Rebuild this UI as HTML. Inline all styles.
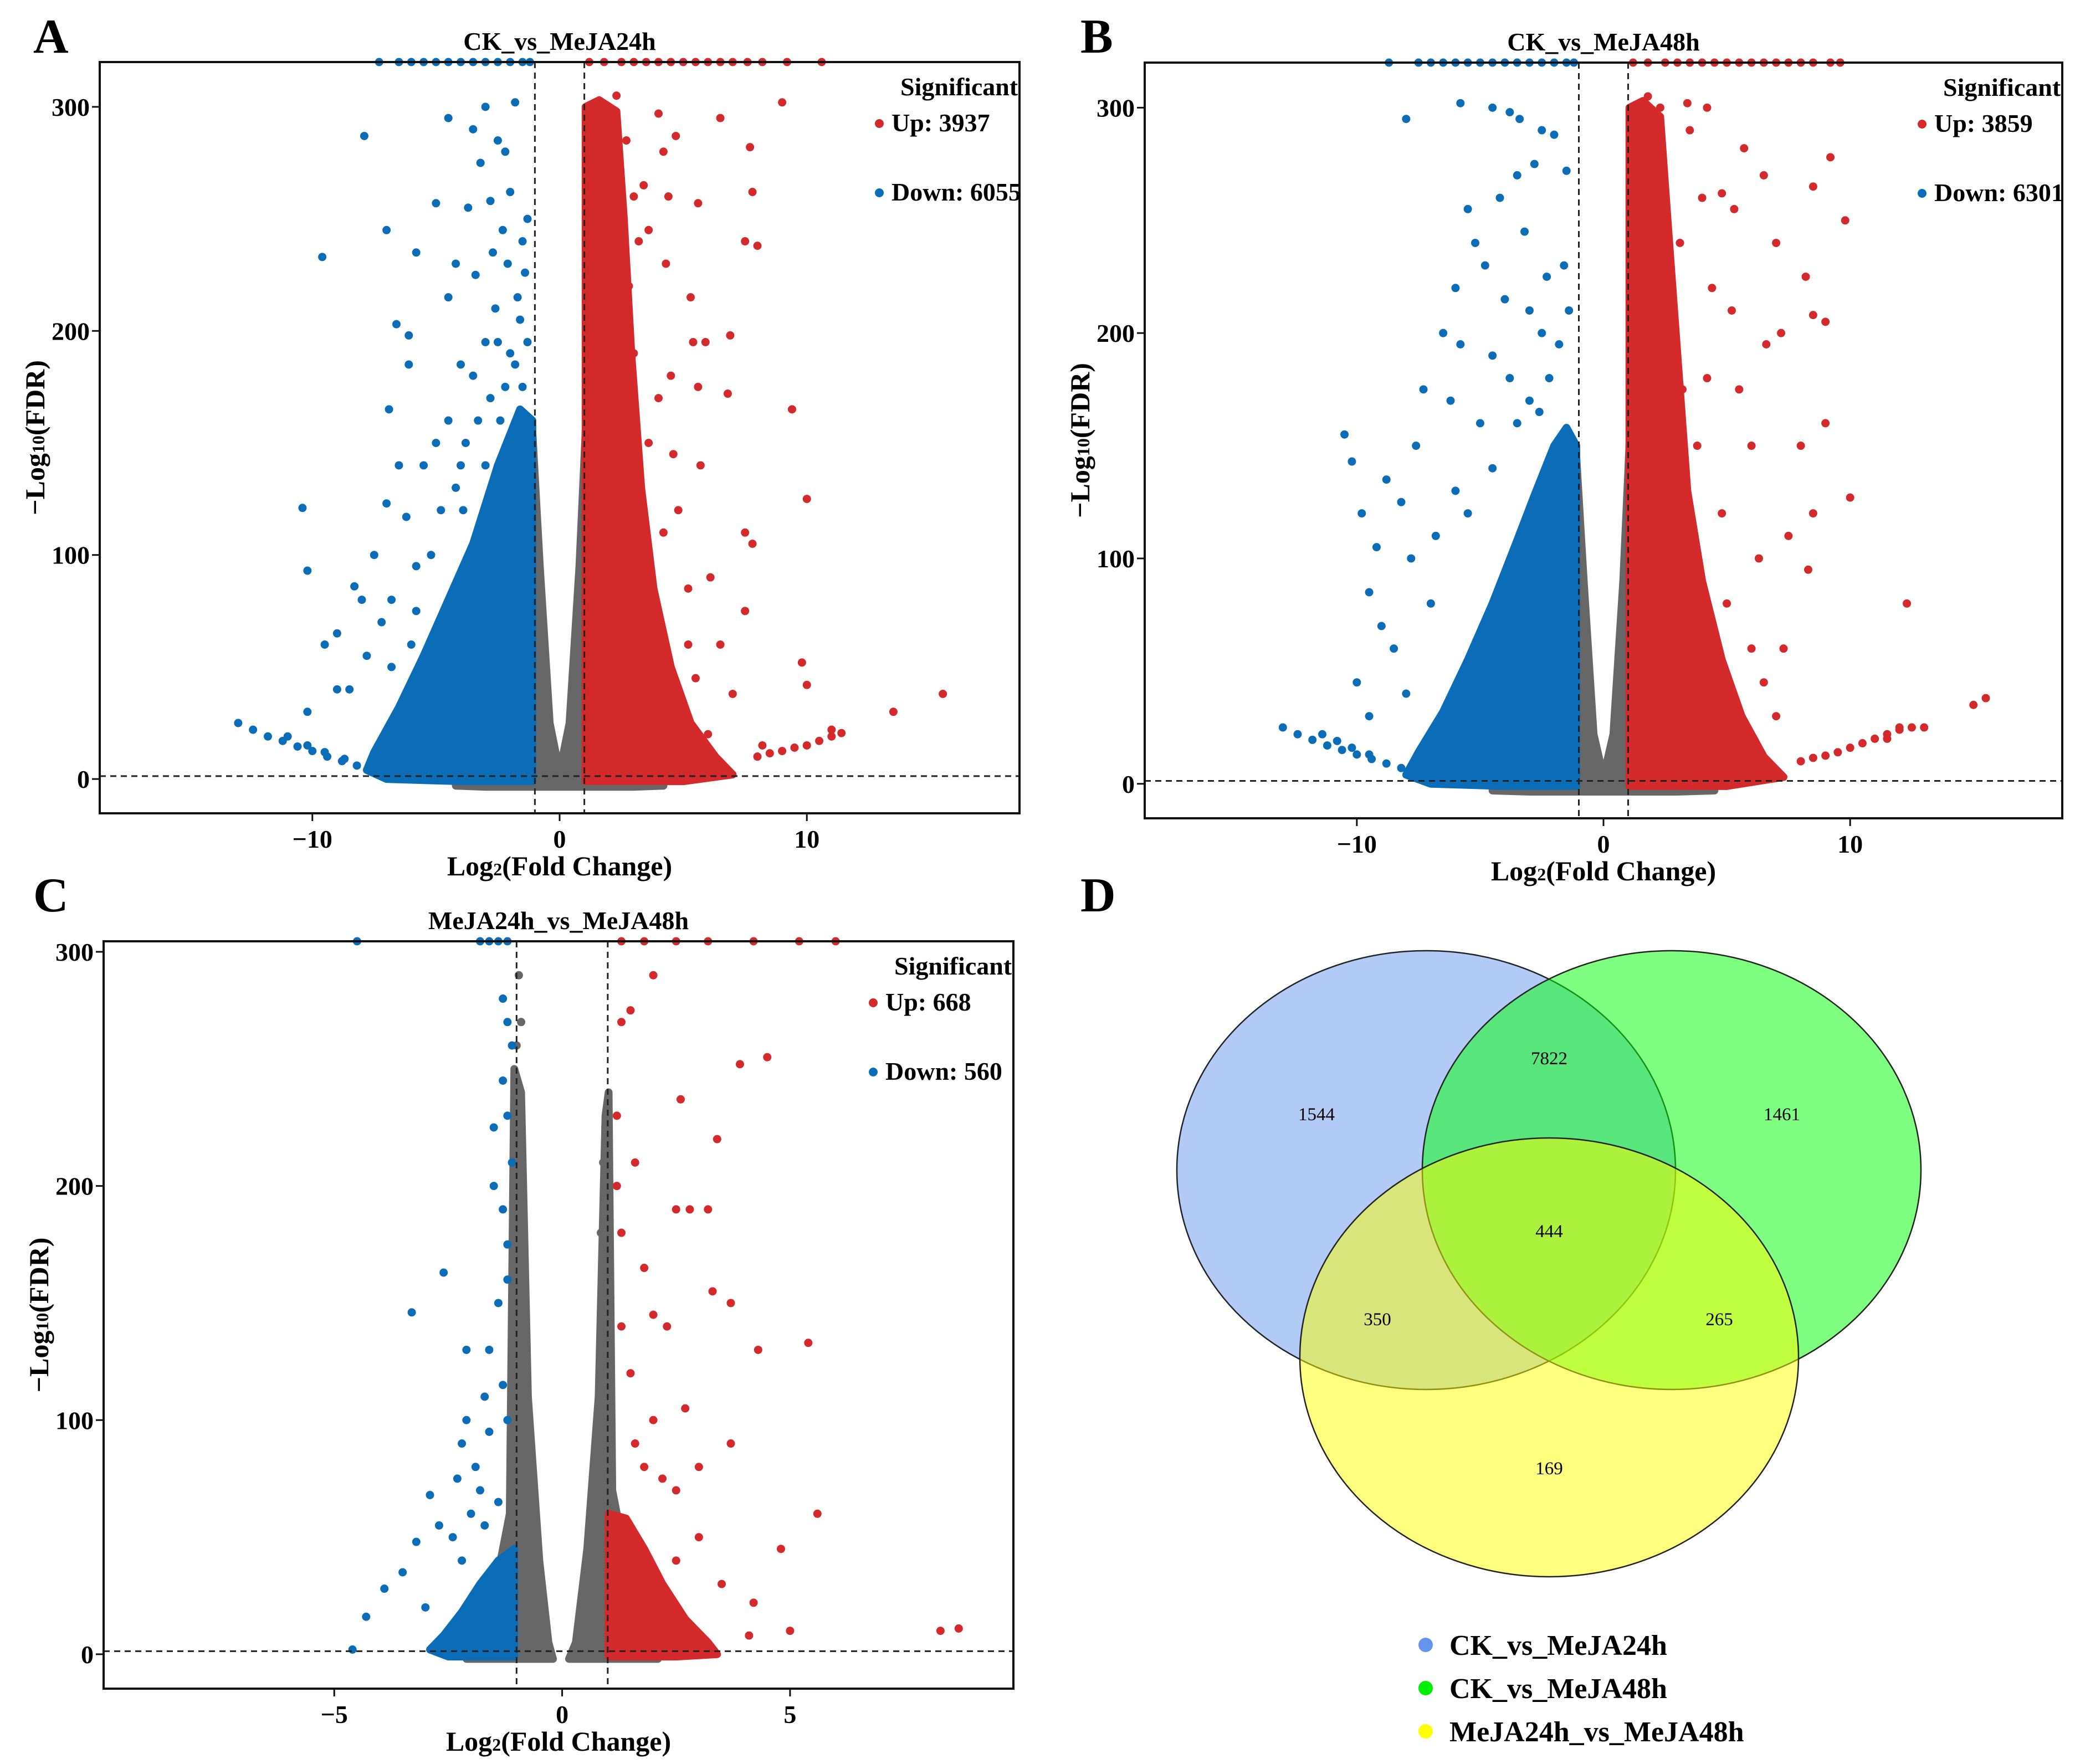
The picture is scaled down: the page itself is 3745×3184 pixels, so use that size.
<!DOCTYPE html>
<html><head><meta charset="utf-8"><style>
html,body{margin:0;padding:0;background:#fff;}
svg{display:block;font-family:"Liberation Serif",serif;}
</style></head><body>
<svg id="fig" width="3745" height="3184" viewBox="0 0 3745 3184" xmlns="http://www.w3.org/2000/svg">
<rect width="3745" height="3184" fill="#fff"/>
<g font-weight="bold" font-size="88">
<text x="60" y="95">A</text>
<text x="1950" y="95">B</text>
<text x="60" y="1645">C</text>
<text x="1950" y="1645">D</text>
</g>
<g id="venn"></g>
</svg>
<script>
// ---------- Panel A data ----------
const aBlueEnv=[[-1.1,-1],[-1.1,160],[-1.6,165],[-2.5,140],[-3.5,105],[-4.5,80],[-5.5,55],[-6.5,32],[-7.5,12],[-7.8,4],[-7,0],[-4,-1]];
const aRedEnv=[[1.05,-1],[1.05,300],[1.6,303],[2.3,298],[2.6,250],[2.9,190],[3.3,130],[3.8,85],[4.5,50],[5.3,25],[6.3,10],[7,2],[5,-1]];
const aGrayEnv=[[-4.2,-3],[-1.1,-3],[-1.1,155],[-0.8,95],[-0.4,25],[0,3],[0.4,25],[0.8,95],[1.05,155],[1.05,-3],[4.2,-3],[3,-3.5],[-3,-3.5]];
const aBluePts=[[-7.9,287],[-9.6,233],[-10.4,121],[-10.2,93],[-10.2,30],[-7,245],[-6.6,203],[-6.1,198],[-6.1,185],[-5.8,235],[-5,257],[-4.5,295],[-3.5,290],[-3.0,300],[-1.8,302],[-2.5,285],[-3.2,275],[-2.2,280],[-2.0,262],[-2.8,258],[-4.2,230],[-4.5,215],[-3.4,225],[-2.6,210],[-2.3,245],[-1.5,240],[-1.4,226],[-6.9,165],[-7,123],[-8.3,86],[-9,65],[-8,80],[-5.5,140],[-6.2,117],[-4.5,160],[-3.5,180],[-3,195],[-2,190],[-1.5,175],[-5,150],[-4,185],[-6.5,140],[-7.5,100],[-8.5,40],[-9.5,60],[-9,40],[-7.8,55],[-6.8,80],[-5.8,95],[-1.6,205],[-1.3,250],[-3.7,255],[-2.7,235],[-4.8,120],[-3.8,150],[-2.4,160],[-6,60],[-5.2,100],[-4.2,130],[-3,140],[-1.9,150],[-2.2,175],[-1.8,185],[-2.8,170],[-3.3,160],[-4,140],[-1.3,195],[-2.5,195],[-1.7,215],[-2.1,230],[-3.9,120],[-5.8,75],[-6.8,50],[-7.2,70]];
const aRedPts=[[2.3,305],[1.7,300],[4,297],[6.5,295],[9,302],[7.7,282],[7.8,262],[4.7,287],[4.2,280],[3.4,265],[5.6,257],[7.5,240],[8,238],[3.6,245],[4.3,230],[5.3,215],[6.9,198],[5.4,195],[5.9,195],[4.5,180],[9.4,165],[5.6,175],[4,170],[6.8,172],[4.6,145],[5.7,140],[10,125],[7.5,110],[7.8,105],[6.1,90],[5.2,85],[9.8,52],[10,42],[11,22],[13.5,30],[15.5,38],[6.5,60],[7,38],[5.5,45],[6,20],[3.5,100],[2.8,220],[3,190],[4.8,120],[5.2,60],[4,50],[7.5,75],[8.2,15],[4.4,260],[2.7,285],[3.2,240],[3.6,150],[4.2,110],[3,260],[2.9,160]];
const aBlueTail=[[-13,25],[-12.4,22],[-11.8,19],[-11.2,17],[-10.6,14.5],[-10,12.5],[-9.4,10],[-8.8,8],[-8.2,6],[-7.6,4.5],[-11,19],[-10.2,15],[-9.5,12],[-8.7,9]];
const aRedTail=[[8,10],[8.5,11.5],[9,12.5],[9.5,14],[10,15],[10.5,17],[11,19],[11.4,20.5]];
const aBlueTop=[-7.3,-6.5,-6,-5.5,-5,-4.5,-4,-3.5,-3,-2.5,-2,-1.5,-1.2];
const aRedTop=[1.2,1.8,2.5,3,3.5,4,4.5,5,5.5,6,6.5,7,7.6,8.2,9.2,10.6];
// ---------- Panel B data ----------
const bBlueEnv=[[-1.1,-1],[-1.1,150],[-1.5,158],[-2,150],[-2.8,128],[-3.5,108],[-4.5,80],[-5.5,55],[-6.5,32],[-7.5,14],[-8,4],[-7,0],[-4,-1]];
const bRedEnv=[[1.05,-1],[1.05,300],[1.6,303],[2.3,296],[2.6,250],[3,190],[3.4,130],[4,90],[4.8,55],[5.6,30],[6.5,12],[7.3,3],[5,-1]];
const bGrayEnv=[[-4.5,-3],[-1.1,-3],[-1.1,145],[-0.8,90],[-0.4,22],[0,3],[0.4,22],[0.8,90],[1.05,150],[1.05,-3],[4.5,-3],[3,-3.5],[-3,-3.5]];
const bBluePts=[[-8,295],[-5.8,302],[-4.5,300],[-3.8,298],[-3.4,295],[-2.5,290],[-2,288],[-2.8,275],[-3.5,270],[-1.5,272],[-4.2,260],[-5.5,255],[-5.2,240],[-4.8,230],[-6,220],[-4,215],[-3,210],[-2.3,225],[-6.5,200],[-5.8,195],[-4.5,190],[-7.3,175],[-6.2,170],[-5,160],[-10.5,155],[-10.2,143],[-9.8,120],[-8.8,135],[-8.2,125],[-7.6,150],[-9.2,105],[-9.5,85],[-9,70],[-8.5,60],[-10,45],[-7.8,100],[-6.8,110],[-6,130],[-3.8,180],[-2.5,200],[-1.6,230],[-3.2,245],[-1.4,210],[-5.5,120],[-7,80],[-8,40],[-9.5,30],[-4.5,140],[-3.5,160],[-2.2,180],[-1.8,195],[-3,170],[-2.6,165]];
const bRedPts=[[1.8,305],[2.3,300],[3.4,302],[4.2,300],[5.7,282],[6.5,270],[8.5,265],[9.2,278],[9.8,250],[3.5,290],[4.8,262],[4,260],[5.3,255],[7,240],[8.2,225],[8.5,208],[9.0,205],[6.6,195],[7.2,200],[5.2,210],[3.1,240],[4.4,220],[5.5,175],[6,150],[9.0,160],[10.0,127],[12.3,80],[8,150],[8.5,120],[8.3,95],[7.5,110],[6.3,100],[15,35],[15.5,38],[13,25],[12,25],[11.5,20],[7.3,60],[6.5,45],[4.8,120],[5,80],[3.8,150],[2.8,200],[3.2,175],[6,60],[7,30],[4.2,180]];
const bBlueTail=[[-13,25],[-12.4,22],[-11.8,19.5],[-11.2,17],[-10.6,15],[-10,13],[-9.4,11],[-8.8,9],[-8.2,7],[-7.6,5],[-11.4,22],[-10.8,19],[-10.2,16],[-9.5,13]];
const bRedTail=[[8,10],[8.5,11.5],[9,12.5],[9.5,14],[10,16],[10.5,18],[11,20],[11.5,22],[12,24],[12.5,25]];
const bBlueTop=[-8.7,-7.5,-7,-6.5,-6,-5.5,-5,-4.5,-4,-3.5,-3,-2.5,-2,-1.5,-1.2];
const bRedTop=[1.2,1.8,2.5,3,3.5,4,4.5,5,5.5,6,6.5,7,7.5,8,8.5,9.2,9.6];
// ---------- Panel C data ----------
const cBlueEnv=[[-1.05,-1],[-1.05,45],[-1.4,40],[-1.8,30],[-2.2,18],[-2.6,8],[-2.9,2],[-2.5,-1]];
const cRedEnv=[[1.02,-1],[1.02,60],[1.4,58],[1.8,45],[2.2,30],[2.7,15],[3.2,5],[3.4,0],[2.5,-1]];
const cGrayEnvL=[[-2.1,-2],[-1.6,15],[-1.15,60],[-1.05,250],[-0.9,240],[-0.75,110],[-0.5,40],[-0.3,5],[-0.2,-2]];
const cGrayEnvR=[[0.15,-2],[0.3,5],[0.55,45],[0.8,110],[0.95,230],[1.02,240],[1.1,70],[1.6,20],[2.1,-2]];
const cBluePts=[[-1.3,280],[-1.2,270],[-1.1,260],[-1.3,245],[-1.2,230],[-1.5,225],[-1.1,210],[-1.3,190],[-1.2,175],[-1.4,150],[-1.6,130],[-1.7,110],[-2.1,100],[-2.2,90],[-2.6,163],[-3.3,146],[-2.1,130],[-2.3,75],[-2.9,68],[-3.2,48],[-3.5,35],[-3.9,28],[-4.3,16],[-4.6,2],[-2.7,55],[-2,60],[-1.9,80],[-1.3,115],[-1.6,95],[-1.5,200],[-1.2,160],[-1.4,65],[-1.8,70],[-2.4,50],[-3,20],[-1.7,55],[-1.2,100],[-2.2,40]];
const cRedPts=[[1.3,270],[1.5,275],[2,290],[2.6,237],[3.4,220],[3.9,252],[4.5,255],[1.2,230],[1.6,210],[2.5,190],[2.8,190],[3.2,190],[1.3,180],[1.8,165],[3.3,155],[3.7,150],[2.0,145],[2.3,140],[4.3,130],[5.4,133],[3.7,90],[2.7,105],[1.5,120],[2,100],[5.6,60],[4.8,45],[4.2,22],[5,10],[8.3,10],[8.7,11],[4.1,8],[3,50],[2.5,70],[1.8,80],[3.5,30],[2.5,40],[1.3,140],[1.2,200],[1.6,90],[2.2,75],[3,80]];
const cGrayPts=[[-0.95,290],[-0.9,270],[-1,260],[-0.95,225],[-0.9,205],[-1,195],[0.95,225],[0.9,210],[1,195],[0.85,180],[-1.0,180],[-0.95,160],[-1.05,140],[0.95,160],[1.0,140],[0.9,120]];
const cBlueTail=[];
const cRedTail=[];
const cBlueTop=[-4.5,-1.8,-1.6,-1.4,-1.2];
const cRedTop=[1.3,1.8,2.5,3.2,4.2,5.2,6];

const RED="#d42a2b", BLUE="#0b6db8", GRAY="#676767";
const NS="http://www.w3.org/2000/svg";
const svg=document.getElementById('fig');
function mk(tag,attrs,parent){const e=document.createElementNS(NS,tag);for(const k in attrs)e.setAttribute(k,attrs[k]);parent.appendChild(e);return e;}

function volcano(cfg){
  const g=mk('g',{},svg);
  
  
  const X=v=>cfg.x0+(v-cfg.xmin)/(cfg.xmax-cfg.xmin)*(cfg.x1-cfg.x0);
  const Y=v=>cfg.y1-(v-cfg.ymin)/(cfg.ymax-cfg.ymin)*(cfg.y1-cfg.y0);
  const clip=mk('clipPath',{id:cfg.id+'-clip'},g);
  mk('rect',{x:cfg.x0,y:cfg.y0-8,width:cfg.x1-cfg.x0,height:cfg.y1-cfg.y0+8},clip);
  const plot=mk('g',{'clip-path':'url(#'+cfg.id+'-clip)'},g);
  
  
  function poly(pts,col,name){
    const p=mk('polygon',{points:pts.map(q=>X(q[0])+','+Y(q[1])).join(' '),fill:col,stroke:col,'stroke-width':14,'stroke-linejoin':'round'},plot);
    
    
  }
  function pts(arr,col,name){
    arr.forEach(q=>{const c=mk('circle',{cx:X(q[0]),cy:Y(q[1]),r:7.5,fill:col},plot);
      
      });
  }
  cfg.gray.forEach(e=>poly(e,GRAY,'nonsig-cloud'));
  pts(cfg.grayPts||[],GRAY,'nonsig-point');
  poly(cfg.blueEnv,BLUE,'down-cloud');
  poly(cfg.redEnv,RED,'up-cloud');
  pts(cfg.bluePts,BLUE,'down-point');
  pts(cfg.redPts,RED,'up-point');
  pts(cfg.blueTail,BLUE,'down-point');
  pts(cfg.redTail,RED,'up-point');
  pts(cfg.blueTop.map(v=>[v,cfg.ymax]),BLUE,'down-capped-point');
  pts(cfg.redTop.map(v=>[v,cfg.ymax]),RED,'up-capped-point');
  const dash={stroke:'#222','stroke-width':3,'stroke-dasharray':'11 8',fill:'none'};
  let l=mk('line',Object.assign({x1:X(-1),x2:X(-1),y1:cfg.y0,y2:cfg.y1},dash),g);
  
  
  l=mk('line',Object.assign({x1:X(1),x2:X(1),y1:cfg.y0,y2:cfg.y1},dash),g);
  
  
  l=mk('line',Object.assign({x1:cfg.x0,x2:cfg.x1,y1:Y(1.3),y2:Y(1.3)},dash),g);
  
  
  const fr=mk('rect',{x:cfg.x0,y:cfg.y0,width:cfg.x1-cfg.x0,height:cfg.y1-cfg.y0,fill:'none',stroke:'#111','stroke-width':4},g);
  
  
  cfg.xticks.forEach((v,i)=>{
    const t=mk('line',{x1:X(v),x2:X(v),y1:cfg.y1,y2:cfg.y1+14,stroke:'#111','stroke-width':3},g);
    
    
    const tx=mk('text',{x:X(v),y:cfg.y1+62,'text-anchor':'middle','font-size':46,'font-weight':'bold'},g);
    tx.textContent=cfg.xlabels[i];
    
    
  });
  cfg.yticks.forEach((v,i)=>{
    const t=mk('line',{x1:cfg.x0-14,x2:cfg.x0,y1:Y(v),y2:Y(v),stroke:'#111','stroke-width':3},g);
    
    
    const tx=mk('text',{x:cfg.x0-18,y:Y(v)+16,'text-anchor':'end','font-size':46,'font-weight':'bold'},g);
    tx.textContent=cfg.ylabels[i];
    
    
  });
  const cx=(cfg.x0+cfg.x1)/2;
  const tt=mk('text',{x:cx,y:cfg.y0-22,'text-anchor':'middle','font-size':46,'font-weight':'bold'},g);
  tt.textContent=cfg.title;
  
  
  const xt=mk('text',{x:cx,y:cfg.y1+112,'text-anchor':'middle','font-size':50,'font-weight':'bold'},g);
  xt.innerHTML='Log<tspan font-size="32">2</tspan>(Fold Change)';
  
  
  const yc=(cfg.y0+cfg.y1)/2;
  const yt=mk('text',{x:cfg.x0-100,y:yc,'text-anchor':'middle','font-size':50,'font-weight':'bold',transform:'rotate(-90 '+(cfg.x0-100)+' '+yc+')'},g);
  yt.innerHTML='\u2212Log<tspan font-size="32">10</tspan>(FDR)';
  
  
  const lg=mk('g',{},g);
  
  
  const lx=cfg.x1-215;
  let s=mk('text',{x:lx,y:cfg.y0+60,'font-size':46,'font-weight':'bold'},lg);s.textContent='Significant';
  
  
  const items=[[RED,'Up: '+cfg.up,cfg.y0+125],[BLUE,'Down: '+cfg.down,cfg.y0+250]];
  items.forEach(it=>{
    const c=mk('circle',{cx:lx-38,cy:it[2]-14,r:8,fill:it[0]},lg);
    
    
    const t=mk('text',{x:lx-16,y:it[2],'font-size':46,'font-weight':'bold'},lg);t.textContent=it[1];
    
    
  });
}
volcano({id:'volcano-a',title:'CK_vs_MeJA24h',x0:180,x1:1840,y0:112,y1:1468,xmin:-18.6,xmax:18.6,ymin:-15.3,ymax:320,
  xticks:[-10,0,10],xlabels:['\u221210','0','10'],yticks:[0,100,200,300],ylabels:['0','100','200','300'],
  gray:[aGrayEnv],blueEnv:aBlueEnv,redEnv:aRedEnv,bluePts:aBluePts,redPts:aRedPts,blueTail:aBlueTail,redTail:aRedTail,blueTop:aBlueTop,redTop:aRedTop,up:3937,down:6055});
volcano({id:'volcano-b',title:'CK_vs_MeJA48h',x0:2066,x1:3722,y0:113,y1:1477,xmin:-18.6,xmax:18.6,ymin:-15.3,ymax:320,
  xticks:[-10,0,10],xlabels:['\u221210','0','10'],yticks:[0,100,200,300],ylabels:['0','100','200','300'],
  gray:[bGrayEnv],blueEnv:bBlueEnv,redEnv:bRedEnv,bluePts:bBluePts,redPts:bRedPts,blueTail:bBlueTail,redTail:bRedTail,blueTop:bBlueTop,redTop:bRedTop,up:3859,down:6301});
volcano({id:'volcano-c',title:'MeJA24h_vs_MeJA48h',x0:187,x1:1829,y0:1699,y1:3048,xmin:-10.06,xmax:9.9,ymin:-14.7,ymax:304.5,
  xticks:[-5,0,5],xlabels:['\u22125','0','5'],yticks:[0,100,200,300],ylabels:['0','100','200','300'],
  gray:[cGrayEnvL,cGrayEnvR],grayPts:cGrayPts,blueEnv:cBlueEnv,redEnv:cRedEnv,bluePts:cBluePts,redPts:cRedPts,blueTail:cBlueTail,redTail:cRedTail,blueTop:cBlueTop,redTop:cRedTop,up:668,down:560});

// ---------- Venn ----------
const vennSets=['CK_vs_MeJA24h','CK_vs_MeJA48h','MeJA24h_vs_MeJA48h'];
const vennCounts=[1544,7822,1461,444,350,265,169];
const vennLabelPos=[[2376,2011],[2796,1910],[3216,2011],[2796,2222],[2486,2381],[3103,2381],[2796,2650]];
const venn=document.getElementById('venn');
const circles=[[2574,2112,'#6495ed',0.5],[3017,2112,'#00ff00',0.5],[2796,2450,'#ffff00',0.5]];
circles.forEach((c,i)=>{
  const e=mk('ellipse',{cx:c[0],cy:c[1],rx:450,ry:396,fill:c[2],'fill-opacity':c[3],stroke:'#222','stroke-width':2.5},venn);
  
  
});
vennCounts.forEach((v,i)=>{
  const t=mk('text',{x:vennLabelPos[i][0],y:vennLabelPos[i][1]+11,'text-anchor':'middle','font-size':33},venn);
  t.textContent=v;
  
  
});
const legCols=['#6495ed','#00ee00','#ffff00'];
vennSets.forEach((s,i)=>{
  const y=2969+i*78;
  const c=mk('circle',{cx:2573,cy:y,r:13,fill:legCols[i]},venn);
  
  
  const t=mk('text',{x:2616,y:y+18,'font-size':52,'font-weight':'bold'},venn);
  t.textContent=s;
  
  
});
</script>
</body></html>
